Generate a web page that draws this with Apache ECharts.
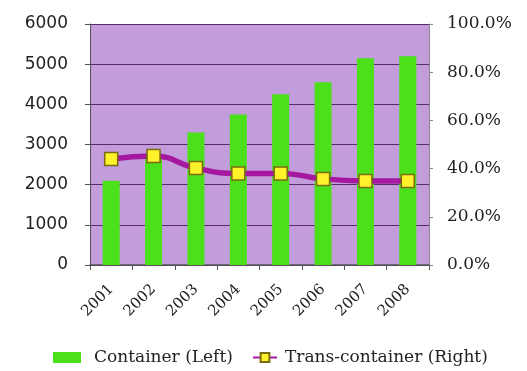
<!DOCTYPE html>
<html><head><meta charset="utf-8">
<script src="https://cdn.jsdelivr.net/npm/echarts@6/dist/echarts.min.js"></script>
<style>html,body{margin:0;padding:0;background:#fff}#c{width:527px;height:371px}</style>
</head><body><div id="c"></div>
<script>
const years = ['2001','2002','2003','2004','2005','2006','2007','2008'];
const container = [2100, 2700, 3300, 3750, 4250, 4550, 5150, 5200];
const transContainer = [44.0, 45.2, 40.2, 38.0, 38.0, 35.7, 34.9, 34.9];

const chart = echarts.init(document.getElementById('c'));
chart.setOption({
  animation: false,
  backgroundColor: '#fff',
  grid: { left: 90, right: 98, top: 24, bottom: 106, backgroundColor: '#C29CDB', show: true, borderWidth: 0 },
  legend: [
    { left: 48, top: 344, itemWidth: 28, itemHeight: 11, icon: 'rect',
      textStyle: { fontFamily: 'DejaVu Serif', fontSize: 17, color: '#222', padding: [0, 0, 0, 8] },
      data: ['Container (Left)'] },
    { left: 247, top: 344, itemWidth: 24, itemHeight: 11,
      textStyle: { fontFamily: 'DejaVu Serif', fontSize: 17, color: '#222', padding: [0, 0, 0, 3] },
      data: ['Trans-container (Right)'] }
  ],
  xAxis: {
    type: 'category', data: years,
    axisLine: { lineStyle: { color: '#555', width: 1.5 } },
    axisTick: { show: true, length: 5, lineStyle: { color: '#555' } },
    axisLabel: { rotate: 45, fontFamily: 'DejaVu Serif', fontSize: 15, color: '#222', margin: 22 }
  },
  yAxis: [
    { type: 'value', min: 0, max: 6000, interval: 1000,
      axisLine: { show: true, lineStyle: { color: '#555' } },
      axisTick: { show: true, length: 5, lineStyle: { color: '#555' } },
      splitLine: { lineStyle: { color: '#5a2a6a', width: 1 } },
      axisLabel: { fontFamily: 'DejaVu Sans', fontSize: 17, color: '#222', margin: 22,
        formatter: v => String(v) } },
    { type: 'value', min: 0, max: 100, interval: 20, position: 'right',
      axisLine: { show: true, lineStyle: { color: '#888' } },
      axisTick: { show: true, length: 4, lineStyle: { color: '#888' } },
      splitLine: { show: false },
      axisLabel: { fontFamily: 'DejaVu Serif', fontSize: 17, color: '#222', margin: 18,
        formatter: v => v.toFixed(1) + '%' } }
  ],
  series: [
    { name: 'Container (Left)', type: 'bar', data: container, barWidth: 17,
      itemStyle: { color: '#4BE01A' } },
    { name: 'Trans-container (Right)', type: 'line', yAxisIndex: 1, data: transContainer,
      smooth: true, symbol: 'rect', symbolSize: 13,
      lineStyle: { color: '#A5189F', width: 5.5 },
      itemStyle: { color: '#FFF22A', borderColor: '#7A6A10', borderWidth: 1.5 } }
  ]
});
</script></body></html>
